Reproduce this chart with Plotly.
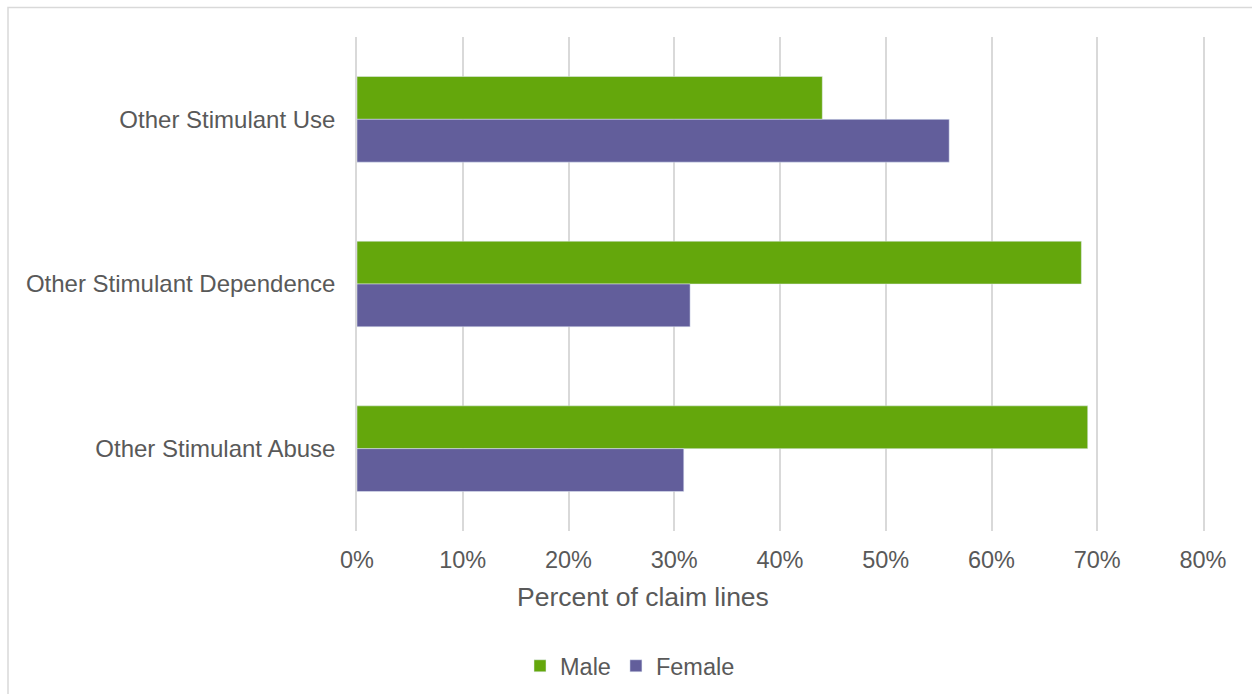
import plotly.graph_objects as go

categories = ["Other Stimulant Use", "Other Stimulant Dependence", "Other Stimulant Abuse"]
male = [0.44, 0.685, 0.691]
female = [0.56, 0.315, 0.309]
x_ticks = [0, 0.1, 0.2, 0.3, 0.4, 0.5, 0.6, 0.7, 0.8]

GREEN = "#64A70C"
PURPLE = "#625E9B"
TEXT = "#595959"
GRID = "#D9D9D9"

W, H = 1252, 694
L, R, T, B = 357, 1203, 37, 531


def px_x(p):
    return (p - L) / (R - L)


def px_y(p):
    return (B - p) / (B - T)


fig = go.Figure()
fig.add_trace(go.Bar(y=categories, x=male, orientation="h", name="Male",
                     marker=dict(color=GREEN)))
fig.add_trace(go.Bar(y=categories, x=female, orientation="h", name="Female",
                     marker=dict(color=PURPLE)))

fig.update_layout(
    width=W, height=H,
    margin=dict(l=L, r=W - R, t=T, b=H - B, pad=0, autoexpand=False),
    paper_bgcolor="white", plot_bgcolor="white",
    barmode="group", bargap=0.48, bargroupgap=0,
    font=dict(family="Liberation Sans, Arial, sans-serif", color=TEXT, size=23),
    showlegend=True,
    legend=dict(orientation="h", xref="container", yref="container",
                x=630 / W, y=1 - 666 / H, xanchor="center", yanchor="middle",
                font=dict(size=23.5, color=TEXT), itemwidth=30, tracegroupgap=0),
    xaxis=dict(range=[0, 0.8], tickvals=x_ticks, tickformat=".0%",
               showgrid=True, gridcolor=GRID, gridwidth=1.5,
               zeroline=False, showline=False, ticks="",
               ticklabelstandoff=12, tickfont=dict(size=23.5, color=TEXT)),
    yaxis=dict(autorange="reversed", showgrid=False, zeroline=False,
               showline=True, mirror=True, linecolor=GRID, linewidth=1.5, ticks="",
               ticklabelstandoff=15, tickfont=dict(size=24, color=TEXT)),
    annotations=[dict(text="Percent of claim lines", xref="paper", yref="paper",
                      x=px_x(643), y=px_y(597), xanchor="center", yanchor="middle",
                      showarrow=False, font=dict(size=26.5, color=TEXT))],
    shapes=[dict(type="rect", xref="paper", yref="paper",
                 x0=px_x(8), x1=px_x(1270), y0=px_y(710), y1=px_y(7.5),
                 line=dict(color=GRID, width=1.5), fillcolor="rgba(0,0,0,0)",
                 layer="below")],
)

fig.write_html("out.html")
